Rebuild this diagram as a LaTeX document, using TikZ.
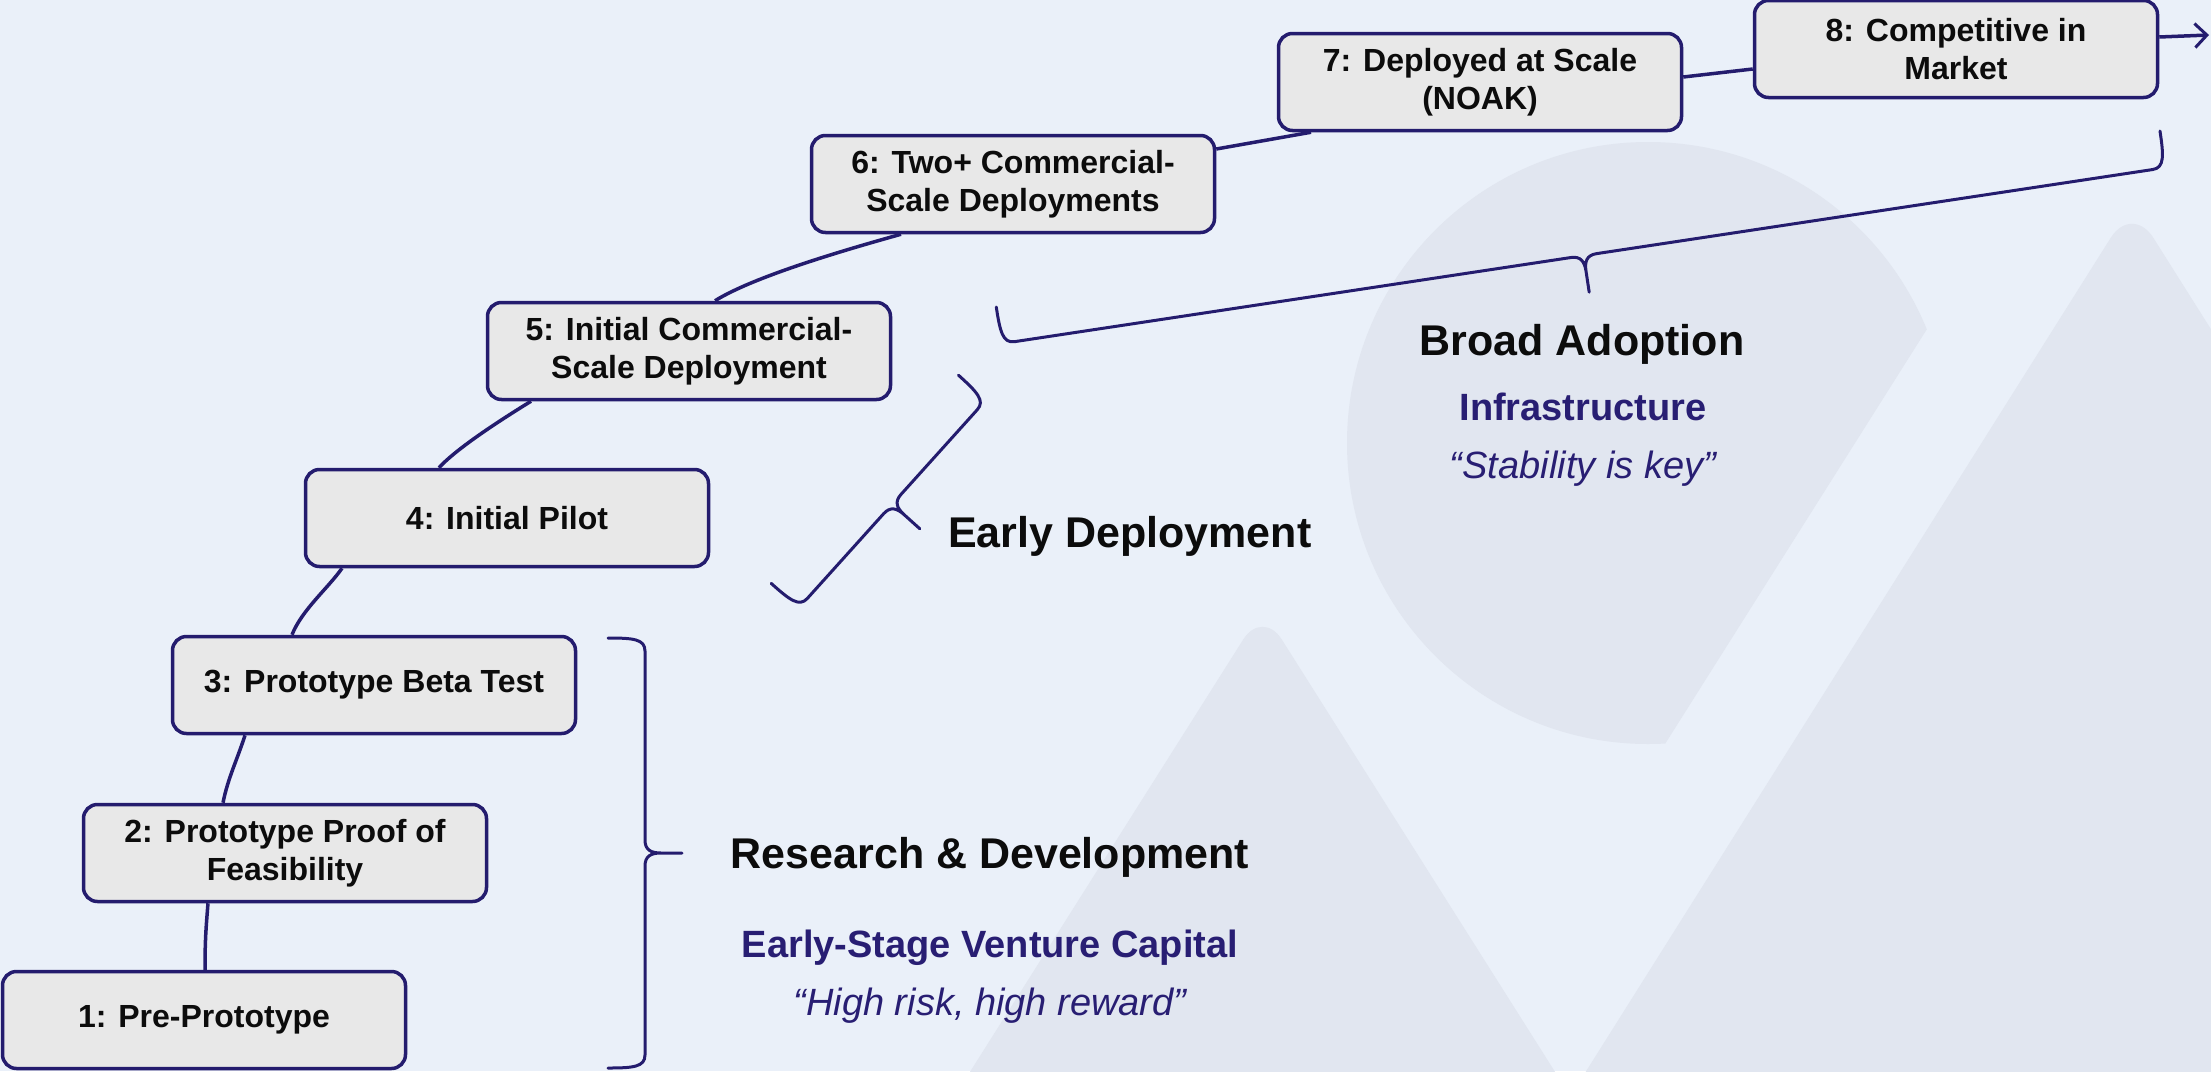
\documentclass[tikz,border=0pt]{standalone}
\usepackage{fontspec}
\setmainfont{Liberation Sans}
\usetikzlibrary{arrows.meta}
\definecolor{bgc}{RGB}{234,240,249}
\definecolor{shapec}{RGB}{225,230,240}
\definecolor{navy}{RGB}{36,28,110}
\definecolor{subnavy}{RGB}{40,30,115}
\definecolor{boxc}{RGB}{232,232,232}
\definecolor{txt}{RGB}{12,12,12}
\newcommand\mystagefont{\bfseries\fontsize{32}{37.5}\selectfont}
\newcommand\myheadfont{\bfseries\fontsize{43}{50}\selectfont}
\newcommand\mysubfont{\bfseries\fontsize{38}{44}\selectfont}
\newcommand\myquotefont{\itshape\fontsize{38}{44}\selectfont}
\tikzset{
  stage/.style={draw=navy, line width=3.5pt, fill=boxc, rounded corners=14pt,
    minimum width=403pt, minimum height=97pt, inner sep=0pt, align=center,
    font=\mystagefont, text=txt},
  conn/.style={draw=navy, line width=3.5pt},
  bracket/.style={draw=navy, line width=3pt, line cap=round, line join=round},
  headtext/.style={font=\myheadfont, text=txt, inner sep=0pt},
  subtext/.style={font=\mysubfont, text=subnavy, inner sep=0pt},
  quotetext/.style={font=\myquotefont, text=subnavy, inner sep=0pt},
  bracketpic/.pic={
    \draw[bracket] (-37,0) .. controls (-12,0) and (0,1) .. (0,13)
      -- (0,#1/2-13) .. controls (0,#1/2-3) and (6,#1/2) .. (16,#1/2) -- (37,#1/2)
      (16,#1/2) .. controls (6,#1/2) and (0,#1/2+3) .. (0,#1/2+13)
      -- (0,#1-13) .. controls (0,#1-1) and (-12,#1) .. (-37,#1);
  }
}
\begin{document}
\begin{tikzpicture}[x=1pt,y=-1pt]
\useasboundingbox (0,0) rectangle (2211,1071);
\fill[bgc] (0,0) rectangle (2211,1071);
% background shapes
\begin{scope}
  \clip (0,0) rectangle (2211,1071);
  \begin{scope}
    \clip (2451,-501) -- (1141,1574) -- (-500,1574) -- (-500,-501) -- cycle;
    \fill[shapec] (1648,443) circle[radius=301pt];
  \end{scope}
  \fill[shapec] (889,1200) [rounded corners=36pt] -- (1262.5,609) [sharp corners] -- (1636,1200) -- cycle;
  \fill[shapec] (1505,1200) [rounded corners=40pt] -- (2132,204) [sharp corners] -- (2760,1200) -- cycle;
\end{scope}
% braces
\pic at (645,638) {bracketpic=430};
\pic[rotate=-42] at (986,400) {bracketpic=280};
\pic[rotate=-81.4] at (2165.5,167.6) {bracketpic=1177};
% stages
\node[stage] (n1) at (204,1020) {1: Pre-Prototype};
\node[stage] (n2) at (285,853) {2: Prototype Proof of\\Feasibility};
\node[stage] (n3) at (374,685) {3: Prototype Beta Test};
\node[stage] (n4) at (507,518) {4: Initial Pilot};
\node[stage] (n5) at (689,351) {5: Initial Commercial-\\Scale Deployment};
\node[stage] (n6) at (1013,184) {6: Two+ Commercial-\\Scale Deployments};
\node[stage] (n7) at (1480,82) {7: Deployed at Scale\\(NOAK)};
\node[stage] (n8) at (1956,49) {8: Competitive in\\Market};
\coordinate (arrowend) at (2209,35);
% connectors
\draw[conn] ([xshift=1pt]n1.north) .. controls +(0,-30) and +(-2,25) .. ([xshift=-77pt]n2.south);
\draw[conn] ([xshift=-62pt]n2.north) .. controls +(5,-25) and +(-8,25) .. ([xshift=-129pt]n3.south);
\draw[conn] ([xshift=-82pt]n3.north) .. controls +(10,-25) and +(-14,20) .. ([xshift=-165pt]n4.south);
\draw[conn] ([xshift=-68pt]n4.north) .. controls +(18,-20) and +(-26,16) .. ([xshift=-158pt]n5.south);
\draw[conn] ([xshift=26pt]n5.north) .. controls +(40,-25) and +(-50,14) .. ([xshift=-112pt]n6.south);
\draw[conn] ([yshift=35pt]n6.east) -- ([xshift=-169pt]n7.south);
\draw[conn] ([yshift=5pt]n7.east) -- ([yshift=-20pt]n8.west);
\draw[conn, -{Straight Barb[length=12pt,width=24pt,line width=3pt]}] ([yshift=12pt]n8.east) -- (arrowend);
% labels
\node[headtext, anchor=base] (rd) at (990,868) {Research \& Development};
\node[subtext, anchor=base] (rdsub) at (990,957) {Early-Stage Venture Capital};
\node[quotetext, anchor=base] (rdq) at (990,1015) {“High risk, high reward”};
\node[headtext, anchor=base west] (ed) at (948,547) {Early Deployment};
\node[headtext, anchor=base] (ba) at (1582,355) {Broad Adoption};
\node[subtext, anchor=base] (basub) at (1583,420) {Infrastructure};
\node[quotetext, anchor=base] (baq) at (1583,478) {“Stability is key”};
\end{tikzpicture}
\end{document}
